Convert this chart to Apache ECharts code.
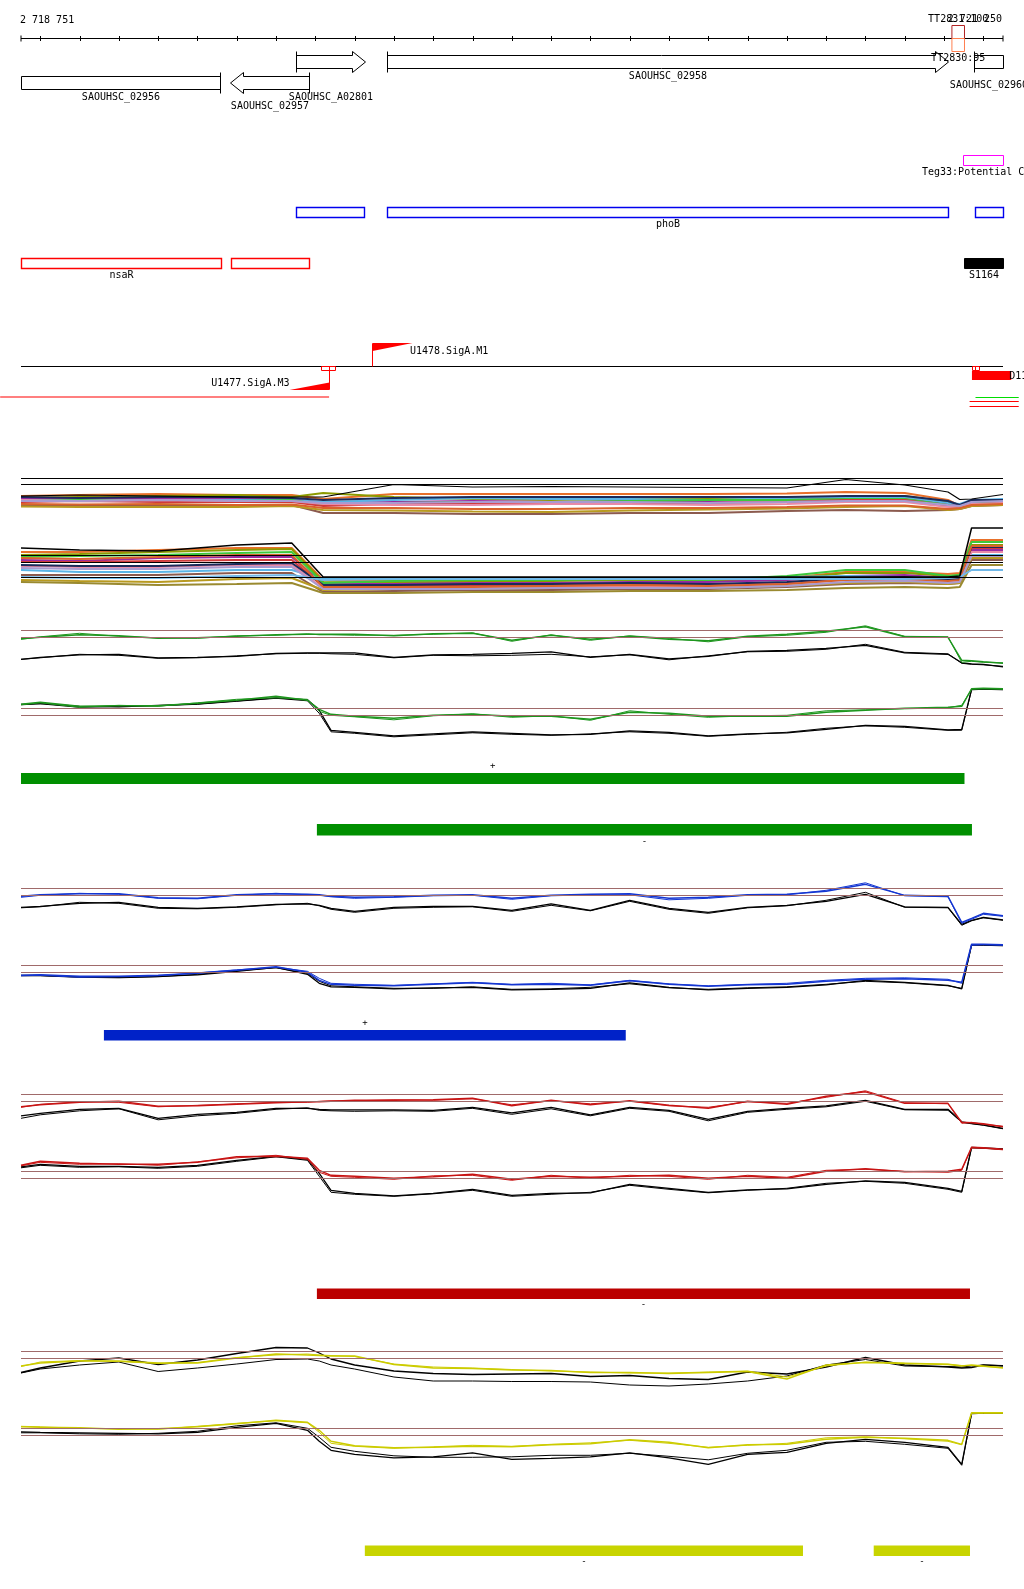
<!DOCTYPE html>
<html><head><meta charset="utf-8">
<script src="https://cdn.jsdelivr.net/npm/echarts@6/dist/echarts.min.js"></script>
<style>html,body{margin:0;padding:0;background:#fff}#c{width:1024px;height:1589px}</style>
</head><body><div id="c"></div>
<script>
// ---------------- DATA ----------------
const START = 2718751, END = 2721250;
const startLabel = '2 718 751', endLabel = '2 721 250';
const rulerTicks = [2718800,2718900,2719000,2719100,2719200,2719300,2719400,2719500,2719600,2719700,2719800,2719900,2720000,2720100,2720200,2720300,2720400,2720500,2720600,2720700,2720800,2720900,2721000,2721100,2721200];

const geneNames  = ['SAOUHSC_02956','SAOUHSC_02957','SAOUHSC_A02801','SAOUHSC_02958','SAOUHSC_02960'];
const geneStart  = [2718751,2719283,2719451,2719682,2721176];
const geneEnd    = [2719258,2719485,2719626,2721109,2721250];
const geneStrand = ['-','-','+','+','+'];
const geneTrunc  = [true,false,false,false,true];

const termNames = ['TT2831:100','TT2830:95'];
const termStart = 2721120, termEnd = 2721152;

const tegName = 'Teg33:Potential CodY';
const tegStart = [2721148], tegEnd = [2721250];
const phoBStart = [2719452,2719683,2721178], phoBEnd = [2719625,2721110,2721250];
const nsaRStart = [2718751,2719285], nsaREnd = [2719259,2719484];
const s1164Start = [2721151], s1164End = [2721250];

const promNames = ['U1478.SigA.M1','U1477.SigA.M3'];
const promPos = [2719643,2719535];
const promStrand = ['+','-'];
const tssStart = [2719515,2721172], tssEnd = [2719549,2721189], tssSplit = [2719535,2721178];
const d1Start = [2721171], d1End = [2721271], d1Name = 'D11.SigA';
const trStart = [2718698,2721180,2721165,2721165], trEnd = [2719535,2721290,2721290,2721290];

const greenBarStart = [2718751,2719504], greenBarEnd = [2721152,2721171], greenBarStrand = ['+','-'];
const blueBarStart = [2718962], blueBarEnd = [2720290], blueBarStrand = ['+'];
const redBarStart = [2719504], redBarEnd = [2721166], redBarStrand = ['-'];
const yellowBarStart = [2719626,2720921], yellowBarEnd = [2720741,2721166], yellowBarStrand = ['-','-'];

// profile positions (bp)
const POS = [2718751,2718800,2718900,2719000,2719100,2719200,2719300,2719400,2719480,2719510,2719540,2719600,2719700,2719800,2719900,2720000,2720100,2720200,2720300,2720400,2720500,2720600,2720700,2720800,2720900,2721000,2721110,2721145,2721170,2721200,2721250];
const upperRefs = [4.0,3.3];
const lowerRefs = [3.5,2.8];

const gU1 = [3.15,3.3,3.55,3.45,3.2,3.25,3.4,3.55,3.6,3.6,3.6,3.62,3.45,3.65,3.7,3.0,3.5,3.1,3.4,3.1,2.95,3.4,3.6,3.9,4.35,3.35,3.3,1.0,0.95,0.85,0.7];
const gU2 = [3.1,3.35,3.7,3.4,3.25,3.2,3.45,3.5,3.65,3.55,3.55,3.5,3.5,3.6,3.75,2.9,3.55,3.0,3.45,3.2,2.85,3.35,3.5,3.8,4.45,3.4,3.35,0.8,0.9,0.8,0.75];
const gUk1 = [1.1,1.3,1.55,1.6,1.25,1.3,1.4,1.7,1.75,1.75,1.75,1.75,1.3,1.55,1.6,1.7,1.85,1.3,1.6,1.15,1.4,1.9,2.0,2.2,2.5,1.75,1.6,0.75,0.65,0.6,0.35];
const gUk2 = [1.1,1.25,1.6,1.5,1.2,1.25,1.45,1.65,1.7,1.7,1.65,1.6,1.25,1.5,1.45,1.5,1.6,1.35,1.55,1.05,1.45,1.85,1.9,2.1,2.6,1.8,1.65,0.7,0.6,0.55,0.4];
const gL1 = [3.9,4.1,3.7,3.75,3.75,4.0,4.3,4.7,4.3,3.4,2.9,2.7,2.5,2.8,2.9,2.7,2.7,2.4,3.1,3.0,2.7,2.7,2.7,3.1,3.3,3.5,3.6,3.7,5.45,5.5,5.45];
const gL2 = [3.85,4.05,3.6,3.8,3.7,4.05,4.4,4.55,4.4,3.2,2.8,2.65,2.35,2.75,2.95,2.6,2.75,2.3,3.25,2.9,2.6,2.75,2.8,3.25,3.35,3.45,3.55,3.8,5.4,5.45,5.4];
const gLk1 = [3.9,4.0,3.7,3.65,3.8,3.95,4.25,4.55,4.35,3.3,1.3,1.1,0.75,0.95,1.15,1.0,0.85,0.9,1.25,1.1,0.75,0.95,1.05,1.4,1.8,1.7,1.35,1.4,5.4,5.45,5.4];
const gLk2 = [3.85,3.95,3.6,3.7,3.75,3.9,4.2,4.5,4.25,3.0,1.15,1.0,0.65,0.85,1.05,0.9,0.8,0.95,1.15,1.0,0.7,0.9,1.1,1.5,1.75,1.6,1.3,1.3,5.35,5.4,5.35];

const bU1 = [3.2,3.35,3.45,3.45,3.05,3.0,3.35,3.45,3.4,3.35,3.2,3.1,3.15,3.3,3.35,3.0,3.3,3.4,3.45,3.0,3.1,3.35,3.4,3.7,4.4,3.3,3.2,0.6,1.0,1.5,1.25];
const bU2 = [3.1,3.3,3.5,3.4,3.0,2.95,3.3,3.5,3.35,3.3,3.15,3.0,3.1,3.25,3.3,2.9,3.25,3.35,3.35,2.85,3.0,3.3,3.35,3.8,4.55,3.25,3.15,0.5,0.9,1.4,1.2];
const bUk1 = [2.1,2.2,2.5,2.6,2.1,2.0,2.15,2.4,2.45,2.3,2.0,1.7,2.1,2.2,2.2,1.8,2.45,1.8,2.8,2.0,1.6,2.1,2.3,2.7,3.4,2.15,2.1,0.4,0.8,1.1,0.85];
const bUk2 = [2.05,2.15,2.6,2.5,2.0,1.95,2.1,2.35,2.5,2.25,1.9,1.6,2.0,2.1,2.15,1.7,2.3,1.75,2.7,1.9,1.5,2.05,2.25,2.8,3.6,2.1,2.05,0.3,0.75,1.05,0.8];
const bL1 = [2.5,2.55,2.4,2.4,2.5,2.7,3.0,3.35,2.8,2.0,1.6,1.5,1.45,1.6,1.75,1.55,1.6,1.5,1.95,1.6,1.4,1.55,1.6,1.9,2.1,2.15,2.0,1.8,5.6,5.6,5.55];
const bL2 = [2.45,2.5,2.3,2.35,2.45,2.75,3.05,3.3,2.9,2.2,1.7,1.6,1.5,1.65,1.8,1.6,1.7,1.55,2.0,1.65,1.45,1.6,1.7,2.0,2.2,2.25,2.1,1.7,5.5,5.55,5.5];
const bLk1 = [2.5,2.5,2.35,2.3,2.4,2.55,2.9,3.3,2.6,1.7,1.35,1.3,1.15,1.25,1.3,1.05,1.1,1.2,1.75,1.3,1.05,1.2,1.3,1.55,2.0,1.8,1.5,1.15,5.55,5.55,5.5];
const bLk2 = [2.45,2.45,2.3,2.25,2.35,2.6,2.95,3.25,2.7,1.9,1.45,1.35,1.2,1.2,1.35,1.1,1.15,1.3,1.65,1.25,1.1,1.25,1.35,1.6,1.9,1.75,1.45,1.2,5.5,5.5,5.45];

const rU1 = [2.75,2.95,3.2,3.3,2.8,2.85,3.0,3.15,3.25,3.25,3.3,3.4,3.4,3.45,3.6,2.85,3.4,2.95,3.35,2.9,2.6,3.3,3.0,3.8,4.25,3.1,3.1,1.2,1.15,1.05,0.75];
const rU2 = [2.7,3.0,3.25,3.2,2.75,2.9,3.05,3.2,3.2,3.3,3.35,3.35,3.45,3.4,3.55,2.95,3.35,3.05,3.3,2.85,2.7,3.25,3.1,3.7,4.35,3.15,3.05,1.1,1.2,1.0,0.8];
const rUk1 = [1.85,2.1,2.5,2.6,1.6,2.0,2.2,2.6,2.6,2.5,2.45,2.45,2.45,2.4,2.7,2.15,2.7,1.95,2.7,2.4,1.5,2.3,2.6,2.85,3.4,2.5,2.5,1.25,1.1,0.95,0.6];
const rUk2 = [1.6,1.95,2.35,2.55,1.45,1.85,2.1,2.5,2.65,2.4,2.35,2.3,2.35,2.3,2.6,2.0,2.55,1.85,2.6,2.3,1.35,2.2,2.5,2.75,3.3,2.45,2.4,1.2,1.05,0.9,0.55];
const rL1 = [4.1,4.5,4.3,4.2,4.2,4.4,4.95,5.0,4.8,3.6,3.1,3.0,2.8,2.95,3.2,2.7,3.0,2.9,3.0,3.1,2.8,3.0,2.8,3.5,3.75,3.45,3.5,3.7,5.9,5.85,5.7];
const rL2 = [4.05,4.4,4.2,4.25,4.1,4.45,4.85,5.1,4.7,3.4,3.0,2.9,2.7,3.05,3.1,2.6,3.1,2.8,3.1,3.0,2.7,3.1,2.9,3.6,3.7,3.5,3.4,3.6,5.85,5.8,5.65];
const rLk1 = [3.95,4.2,4.0,4.0,3.9,4.1,4.6,5.0,4.7,3.3,1.6,1.3,1.05,1.3,1.7,1.1,1.3,1.35,2.2,1.8,1.4,1.65,1.75,2.2,2.55,2.4,1.8,1.5,5.9,5.85,5.75];
const rLk2 = [3.85,4.1,3.9,3.95,3.8,4.0,4.5,4.95,4.6,3.0,1.4,1.2,1.0,1.25,1.6,1.0,1.2,1.4,2.1,1.7,1.35,1.6,1.8,2.3,2.5,2.3,1.7,1.4,5.85,5.8,5.7];

const yU1 = [2.5,2.8,3.0,3.0,2.8,2.8,3.3,3.7,3.6,3.55,3.5,3.5,2.65,2.3,2.25,2.1,2.05,1.85,1.85,1.75,1.85,1.95,1.2,2.6,2.85,2.75,2.65,2.5,2.6,2.5,2.3];
const yU2 = [2.45,2.9,3.05,2.95,2.75,2.85,3.35,3.6,3.7,3.6,3.55,3.45,2.7,2.4,2.3,2.15,2.0,1.9,1.8,1.8,1.9,2.0,1.4,2.5,2.9,2.8,2.7,2.55,2.55,2.45,2.35];
const yUk1 = [1.85,2.3,3.0,3.3,2.65,3.1,3.75,4.35,4.3,3.8,3.2,2.6,2.0,1.75,1.65,1.7,1.75,1.45,1.55,1.25,1.15,1.9,1.7,2.4,3.35,2.6,2.4,2.3,2.35,2.6,2.5];
const yUk2 = [1.8,2.2,2.6,2.9,1.95,2.3,2.7,3.15,3.2,3.0,2.6,2.2,1.4,1.0,1.0,0.95,0.95,0.9,0.6,0.5,0.7,1.0,1.5,2.6,3.15,2.5,2.45,2.4,2.5,2.6,2.55];
const yL1 = [3.65,3.6,3.55,3.4,3.45,3.65,3.95,4.3,4.1,3.3,2.2,1.75,1.55,1.6,1.7,1.65,1.85,1.95,2.35,2.1,1.55,1.85,1.9,2.4,2.6,2.5,2.3,1.9,5.05,5.05,5.05];
const yL2 = [3.7,3.65,3.5,3.45,3.4,3.7,4.0,4.25,4.05,3.1,2.0,1.7,1.5,1.65,1.8,1.7,1.9,2.05,2.3,2.0,1.6,1.8,2.0,2.55,2.65,2.45,2.2,1.85,5.0,5.0,5.0];
const yLk1 = [3.15,3.1,3.05,3.0,2.95,3.1,3.6,4.0,3.3,2.2,1.3,0.9,0.55,0.65,1.05,0.4,0.5,0.65,1.05,0.55,-0.1,0.9,1.1,2.0,2.4,2.1,1.6,-0.1,5.0,5.0,5.0];
const yLk2 = [3.05,3.05,2.95,2.9,3.0,3.2,3.75,4.05,3.5,2.6,1.6,1.2,0.75,0.6,0.6,0.65,0.8,0.8,1.0,0.7,0.35,1.0,1.3,2.1,2.2,1.9,1.5,-0.2,4.95,5.0,5.0];

// multi-sample bundles
const BPOS = [2718751,2718900,2719100,2719300,2719440,2719520,2719700,2719900,2720100,2720300,2720500,2720700,2720850,2721000,2721110,2721140,2721170,2721250];
const bundleUpperRefs = [4.17,3.57];
const bundleLowerRefs = [4.47,3.77,2.27];
const bundleUpperBlack = [2.4,2.5,2.4,2.3,2.3,2.3,3.55,3.3,3.35,3.3,3.25,3.2,4.05,3.5,2.8,2.05,2.1,2.55];
const bundleUpper = [
 [2.4,2.5,2.6,2.5,2.5,2.1,2.6,2.6,2.6,2.6,2.6,2.65,2.8,2.7,2.0,1.4,1.6,1.7],
 [2.2,2.3,2.4,2.5,2.3,2.7,2.3,2.1,2.0,2.2,2.2,2.1,2.3,2.4,1.8,1.5,1.7,1.8],
 [2.1,2.1,2.2,2.1,2.1,1.7,1.8,1.9,1.8,1.9,1.9,2.0,2.1,2.1,1.6,1.4,1.8,1.9],
 [2.0,2.0,2.0,2.0,2.0,1.8,2.0,2.2,2.1,2.1,2.0,2.2,2.3,2.3,1.7,1.6,2.0,2.1],
 [1.9,2.0,1.9,1.9,2.0,1.5,1.7,1.8,1.8,1.9,2.0,2.0,2.1,2.1,1.5,1.3,1.7,1.8],
 [1.8,1.9,1.8,1.8,1.8,1.4,1.6,1.6,1.7,1.7,1.7,1.8,2.0,2.0,1.4,1.2,1.6,1.7],
 [1.45,1.4,1.4,1.45,1.5,0.7,0.7,0.6,0.6,0.7,0.7,0.9,1.0,0.9,1.0,1.1,1.4,1.5],
 [2.0,1.9,2.0,1.9,1.9,1.6,1.5,1.5,1.6,1.6,1.5,1.6,1.8,1.8,1.3,1.3,1.6,1.7],
 [2.3,2.2,2.3,2.3,2.2,2.0,2.2,2.3,2.3,2.3,2.3,2.3,2.4,2.4,1.9,1.5,2.0,2.0],
 [1.35,1.3,1.3,1.3,1.4,1.0,0.95,0.85,0.8,0.95,1.05,1.15,1.3,1.4,1.0,1.1,1.4,1.5],
 [1.6,1.55,1.6,1.5,1.55,1.2,1.2,1.1,1.1,1.2,1.2,1.3,1.45,1.45,1.1,1.2,1.5,1.6],
 [1.9,1.9,2.0,1.9,1.9,1.7,1.7,1.8,1.8,1.8,1.7,1.8,1.9,1.9,1.5,1.4,1.8,1.9]
];
const bundleLowerBlack = [5.2,5.0,4.9,5.5,5.7,2.3,2.3,2.3,2.3,2.3,2.3,2.3,2.3,2.3,2.3,2.4,7.2,7.2];
const bundleLower = [
 [4.8,4.8,5.0,5.2,5.2,2.0,1.9,1.9,2.0,2.1,2.0,2.2,2.8,2.8,2.6,2.7,6.0,6.0],
 [4.5,4.6,4.8,5.0,5.1,1.8,1.7,1.8,1.9,2.0,1.9,2.1,2.7,2.7,2.4,2.5,5.5,5.5],
 [4.0,3.9,4.2,4.3,4.3,1.6,1.6,1.7,1.7,1.8,1.8,2.0,2.4,2.5,2.2,2.3,5.0,5.0],
 [3.0,2.8,2.8,3.0,3.0,2.1,2.2,2.2,2.2,2.2,2.2,2.3,2.4,2.3,2.2,2.3,4.5,4.5],
 [4.3,4.4,4.5,4.7,4.8,1.7,1.9,2.0,2.0,2.1,2.0,2.4,3.0,3.0,2.4,2.5,5.8,5.8],
 [3.8,3.8,3.9,4.0,4.0,1.4,1.4,1.4,1.5,1.6,1.5,1.7,2.1,2.2,2.0,2.1,5.2,5.2],
 [2.5,2.5,2.5,2.7,2.7,0.8,0.9,1.0,1.0,1.1,1.1,1.3,1.6,1.7,1.6,1.7,4.0,4.0],
 [3.4,3.3,3.3,3.5,3.5,1.2,1.2,1.2,1.3,1.4,1.4,1.6,2.0,2.0,1.8,1.9,4.8,4.8],
 [3.5,3.4,3.4,3.6,3.7,1.5,1.5,1.6,1.6,1.7,1.6,1.8,2.2,2.3,2.0,2.1,5.3,5.3],
 [2.0,1.9,1.8,2.1,2.2,1.0,1.1,1.1,1.2,1.2,1.2,1.4,1.7,1.8,1.6,1.7,4.2,4.2],
 [4.2,4.1,4.3,4.5,4.5,1.3,1.3,1.3,1.4,1.5,1.4,1.6,2.0,2.1,1.9,2.0,5.4,5.4],
 [3.2,3.1,3.1,3.3,3.3,1.1,1.1,1.1,1.2,1.2,1.2,1.4,1.8,1.9,1.7,1.8,4.4,4.4],
 [1.8,1.7,1.5,1.6,1.7,0.7,0.7,0.8,0.8,0.9,0.9,1.0,1.2,1.3,1.2,1.3,3.5,3.5],
 [2.3,2.2,2.2,2.4,2.5,2.0,2.1,2.1,2.1,2.1,2.1,2.1,2.1,2.1,2.2,2.3,3.0,3.0]
];

// ---------------- STYLE / LAYOUT ----------------
const PALETTE = ['#e8702a','#8c9a00','#9a2aa0','#5ab4e6','#3cc83c','#d03a3a','#8b5a4e','#e88aa8','#1a2a5a','#b89a20','#d9622b','#a89ad0','#9a8a30','#70b8e8'];
const FONT = '10px "DejaVu Sans Mono", "Liberation Mono", monospace';
const L = { left: 21, right: 21, rulerY: 38.5 };
const TXT = (text, x, y, align) => ({ type: 'text', style: { text, x, y, font: FONT, fill: '#000', align: align || 'center', verticalAlign: 'middle', textAlign: align || 'center', textVerticalAlign: 'middle' } });
const geneLaneTop = { 1: 55.5, 2: 76.5 };
const geneLane = [2,2,1,1,1];
const geneLabelY = [97.5,106.5,97.5,76,85];

const chartDom = document.getElementById('c');
const chart = echarts.init(chartDom, null, { renderer: 'canvas', width: 1024, height: 1589 });

const grids = [], xAxes = [], yAxes = [];
function addGrid(top, height, ymin, ymax, inverse) {
  const i = grids.length;
  grids.push({ left: L.left, right: L.right, top, height, containLabel: false, outerBoundsMode: 'none' });
  xAxes.push({ type: 'value', gridIndex: i, min: START, max: END, show: false });
  yAxes.push({ type: 'value', gridIndex: i, min: ymin, max: ymax, show: false, inverse: !!inverse });
  return i;
}
const gA = addGrid(0, 1589, 0, 1589, true);
const gBU = addGrid(470, 50, 0, 5);
const gBL = addGrid(520, 80, 0, 8);
const profGrid = {
  gU: addGrid(620.3, 60, -1, 5), gL: addGrid(683.3, 70, -1, 6),
  bU: addGrid(878.3, 60, -1, 5), bL: addGrid(940.3, 70, -1, 6),
  rU: addGrid(1084.3, 60, -1, 5), rL: addGrid(1146.3, 70, -1, 6),
  yU: addGrid(1341, 60, -1, 5), yL: addGrid(1403.3, 70, -1, 6)
};

const series = [];
const X = (api, v) => api.coord([v, 0])[0];
function custom(data, renderItem, z) {
  series.push({ type: 'custom', xAxisIndex: gA, yAxisIndex: gA, data, renderItem, silent: true, animation: false, z: z || 2, clip: false });
}

// ruler
custom([[START, END]], (p, api) => {
  const x1 = X(api, api.value(0)), x2 = X(api, api.value(1)), y = L.rulerY;
  return { type: 'group', children: [
    { type: 'line', shape: { x1, y1: y, x2, y2: y }, style: { stroke: '#000', lineWidth: 1 } },
    { type: 'line', shape: { x1: x1, y1: y - 3, x2: x1, y2: y + 3 }, style: { stroke: '#000', lineWidth: 1 } },
    { type: 'line', shape: { x1: x2, y1: y - 3, x2: x2, y2: y + 3 }, style: { stroke: '#000', lineWidth: 1 } },
    TXT(startLabel, x1 - 1, 20.5, 'left'),
    TXT(endLabel, x2 - 1, 19.5, 'right')
  ]};
});
custom(rulerTicks.map(t => [t]), (p, api) => {
  const x = Math.round(X(api, api.value(0))) + 0.5, y = L.rulerY;
  return { type: 'line', shape: { x1: x, y1: y - 2.5, x2: x, y2: y + 2.5 }, style: { stroke: '#000', lineWidth: 1 } };
});

// terminators
custom([[termStart, termEnd]], (p, api) => {
  const x1 = X(api, api.value(0)), x2 = X(api, api.value(1)), cx = (x1 + x2) / 2;
  return { type: 'group', children: [
    { type: 'rect', shape: { x: x1, y: 25.5, width: x2 - x1, height: 13 }, style: { fill: 'none', stroke: '#b22222', lineWidth: 1 } },
    { type: 'rect', shape: { x: x1, y: 38.5, width: x2 - x1, height: 13 }, style: { fill: 'none', stroke: '#ff7f50', lineWidth: 1 } },
    TXT(termNames[0], cx, 19.5), TXT(termNames[1], cx, 58)
  ]};
}, 4);

// genes
custom(geneStart.map((s, i) => [s, geneEnd[i], i]), (p, api) => {
  const i = api.value(2);
  const x1 = Math.round(X(api, api.value(0))) + 0.5, x2 = Math.round(X(api, api.value(1))) + 0.5;
  const top = geneLaneTop[geneLane[i]], bot = top + 13, ht = top - 4, hb = bot + 4, mid = (top + bot) / 2, hl = 13;
  let pts, bx;
  if (geneStrand[i] === '+') {
    bx = x1;
    pts = geneTrunc[i] ? [[x1, top], [x2, top], [x2, bot], [x1, bot]]
      : [[x1, top], [x2 - hl, top], [x2 - hl, ht], [x2, mid], [x2 - hl, hb], [x2 - hl, bot], [x1, bot]];
  } else {
    bx = x2;
    pts = geneTrunc[i] ? [[x1, top], [x2, top], [x2, bot], [x1, bot]]
      : [[x2, top], [x1 + hl, top], [x1 + hl, ht], [x1, mid], [x1 + hl, hb], [x1 + hl, bot], [x2, bot]];
  }
  return { type: 'group', children: [
    { type: 'polygon', shape: { points: pts }, style: { fill: '#fff', stroke: '#000', lineWidth: 1 } },
    { type: 'line', shape: { x1: bx, y1: ht, x2: bx, y2: hb }, style: { stroke: '#000', lineWidth: 1 } },
    TXT(geneNames[i], (x1 + x2) / 2, geneLabelY[i])
  ]};
}, 3);

// boxes helper
function boxes(starts, ends, y0, h, stroke, fill, label, labelIdx, labelY, lw, align, labelX) {
  custom(starts.map((s, i) => [s, ends[i], i]), (p, api) => {
    const i = api.value(2);
    const x1 = Math.round(X(api, api.value(0))) + 0.5, x2 = Math.round(X(api, api.value(1))) + 0.5;
    const ch = [{ type: 'rect', shape: { x: x1, y: y0, width: x2 - x1, height: h }, style: { fill: fill || 'none', stroke, lineWidth: lw || 1 } }];
    if (label && i === labelIdx) ch.push(TXT(label, labelX != null ? labelX : (x1 + x2) / 2, labelY, align));
    return { type: 'group', children: ch };
  });
}
boxes(tegStart, tegEnd, 155.5, 10, '#ff00ff', null, tegName, 0, 172, 1, 'left', 922);
boxes(phoBStart, phoBEnd, 207.5, 10, '#0000ee', null, 'phoB', 1, 224, 1.4);
boxes(nsaRStart, nsaREnd, 258.5, 10, '#ff0000', null, 'nsaR', 0, 275, 1.4);
boxes(s1164Start, s1164End, 258.5, 10, '#000', '#000', 'S1164', 0, 275, 1);

// promoter track
custom([[START, END]], (p, api) => {
  const x1 = X(api, api.value(0)), x2 = X(api, api.value(1));
  return { type: 'line', shape: { x1, y1: 366.5, x2, y2: 366.5 }, style: { stroke: '#000', lineWidth: 1 } };
});
custom(promPos.map((v, i) => [v, i]), (p, api) => {
  const i = api.value(1), x = Math.round(X(api, api.value(0))) + 0.5;
  if (promStrand[i] === '+') {
    return { type: 'group', children: [
      { type: 'line', shape: { x1: x, y1: 366.5, x2: x, y2: 343.5 }, style: { stroke: '#ff0000', lineWidth: 1 } },
      { type: 'polygon', shape: { points: [[x, 343], [x + 40, 343], [x, 351]] }, style: { fill: '#ff0000' } },
      TXT(promNames[i], x + 37.5, 351, 'left')
    ]};
  }
  return { type: 'group', children: [
    { type: 'line', shape: { x1: x, y1: 366.5, x2: x, y2: 389.5 }, style: { stroke: '#ff0000', lineWidth: 1 } },
    { type: 'polygon', shape: { points: [[x, 390], [x - 40, 390], [x, 382.5]] }, style: { fill: '#ff0000' } },
    TXT(promNames[i], x - 40, 383.5, 'right')
  ]};
}, 3);
custom(tssStart.map((s, i) => [s, tssEnd[i], tssSplit[i]]), (p, api) => {
  const x1 = Math.round(X(api, api.value(0))) + 0.5, x2 = Math.round(X(api, api.value(1))) + 0.5, xs = Math.round(X(api, api.value(2))) + 0.5;
  return { type: 'group', children: [
    { type: 'rect', shape: { x: x1, y: 366.5, width: x2 - x1, height: 4 }, style: { fill: 'none', stroke: '#ff0000', lineWidth: 1 } },
    { type: 'line', shape: { x1: xs, y1: 366.5, x2: xs, y2: 370.5 }, style: { stroke: '#ff0000', lineWidth: 1 } }
  ]};
}, 4);
custom(d1Start.map((s, i) => [s, d1End[i]]), (p, api) => {
  const x1 = X(api, api.value(0)), x2 = X(api, api.value(1));
  return { type: 'group', children: [
    { type: 'rect', shape: { x: x1, y: 371, width: x2 - x1, height: 9 }, style: { fill: '#ff0000' } },
    TXT(d1Name, x2 - 2, 376, 'left')
  ]};
});
const trY = [397, 397.5, 401.5, 406.5], trCol = ['#ff0000', '#00dd00', '#ff0000', '#ff0000'];
custom(trStart.map((s, i) => [s, trEnd[i], i]), (p, api) => {
  const i = api.value(2), x1 = X(api, api.value(0)), x2 = X(api, api.value(1));
  return { type: 'line', shape: { x1, y1: trY[i], x2, y2: trY[i] }, style: { stroke: trCol[i], lineWidth: 1.2 } };
});

// strand bars
function strandBars(starts, ends, strands, y0, h, color) {
  custom(starts.map((s, i) => [s, ends[i], i]), (p, api) => {
    const i = api.value(2), x1 = X(api, api.value(0)), x2 = X(api, api.value(1));
    const plus = strands[i] === '+';
    return { type: 'group', children: [
      { type: 'rect', shape: { x: x1, y: y0, width: x2 - x1, height: h }, style: { fill: color } },
      { type: 'text', style: { text: strands[i], x: (x1 + x2) / 2, y: plus ? y0 - 7 : y0 + h + 6, font: '9px "DejaVu Sans Mono", monospace', fill: '#000', align: 'center', verticalAlign: 'middle', textAlign: 'center', textVerticalAlign: 'middle' } }
    ]};
  });
}
strandBars([greenBarStart[0]], [greenBarEnd[0]], [greenBarStrand[0]], 773, 11, '#008f00');
strandBars([greenBarStart[1]], [greenBarEnd[1]], [greenBarStrand[1]], 824, 11.5, '#008f00');
strandBars(blueBarStart, blueBarEnd, blueBarStrand, 1030, 10.5, '#0022c8');
strandBars(redBarStart, redBarEnd, redBarStrand, 1288.5, 10.5, '#bb0000');
strandBars(yellowBarStart, yellowBarEnd, yellowBarStrand, 1545.5, 10.5, '#c8d400');

// line helper
function lineSeries(grid, xs, ys, color, width, refs, refColor) {
  const s = { type: 'line', xAxisIndex: grid, yAxisIndex: grid, data: xs.map((x, i) => [x, ys[i]]), showSymbol: false, symbol: 'none', silent: true, animation: false, clip: false, lineStyle: { color, width: width || 1.2 }, z: 2 };
  if (refs) s.markLine = { silent: true, symbol: ['none', 'none'], label: { show: false }, animation: false, lineStyle: { color: refColor, type: 'solid', width: 1 }, data: refs.map(v => ({ yAxis: v })) };
  series.push(s);
}

// bundles
bundleUpper.forEach((d, k) => lineSeries(gBU, BPOS, d, PALETTE[k], 2));
lineSeries(gBU, BPOS, bundleUpperBlack, '#000', 1.2, bundleUpperRefs, '#000');
bundleLower.forEach((d, k) => lineSeries(gBL, BPOS, d, PALETTE[k], 2));
lineSeries(gBL, BPOS, bundleLowerBlack, '#000', 1.5, bundleLowerRefs, '#000');

// profiles
const REF = '#a06a6a';
const profSets = [
  ['gU', [gU1, gU2], [gUk1, gUk2], '#1e961e', upperRefs],
  ['gL', [gL1, gL2], [gLk1, gLk2], '#1e961e', lowerRefs],
  ['bU', [bU1, bU2], [bUk1, bUk2], '#1436d2', upperRefs],
  ['bL', [bL1, bL2], [bLk1, bLk2], '#1436d2', lowerRefs],
  ['rU', [rU1, rU2], [rUk1, rUk2], '#c81414', upperRefs],
  ['rL', [rL1, rL2], [rLk1, rLk2], '#c81414', lowerRefs],
  ['yU', [yU1, yU2], [yUk1, yUk2], '#cccc00', upperRefs],
  ['yL', [yL1, yL2], [yLk1, yLk2], '#cccc00', lowerRefs]
];
profSets.forEach(([key, cols, blacks, color, refs]) => {
  const g = profGrid[key];
  lineSeries(g, POS, blacks[0], '#000', 1.3, refs, REF);
  lineSeries(g, POS, blacks[1], '#000', 1);
  lineSeries(g, POS, cols[0], color, 1.4);
  lineSeries(g, POS, cols[1], color, 1);
});

chart.setOption({ animation: false, backgroundColor: '#fff', grid: grids, xAxis: xAxes, yAxis: yAxes, series });
</script></body></html>
